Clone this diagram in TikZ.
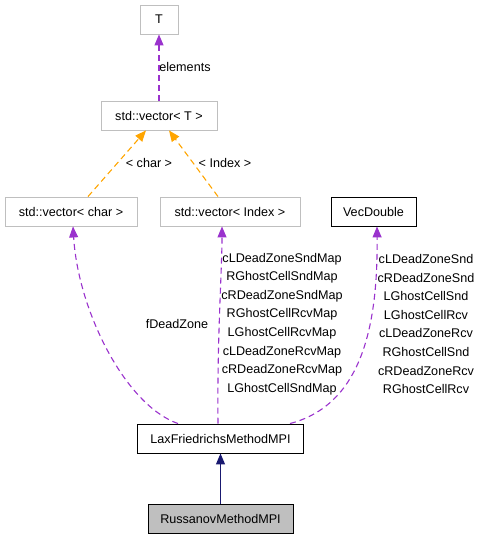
\documentclass[tikz,border=0pt]{standalone}
\usepackage{fontspec}
\setmainfont{Liberation Sans}
\usepackage{xcolor}
\usepackage{tikz}
\usetikzlibrary{arrows.meta}
\usetikzlibrary{calc}

\definecolor{edgepurple}{HTML}{9A32CD}
\definecolor{edgeorange}{HTML}{FFA500}
\definecolor{edgeblue}{HTML}{191970}
\definecolor{boxgrey}{HTML}{BFBFBF}

\begin{document}
\begin{tikzpicture}[x=1bp, y=-1bp, font=\fontsize{12.6bp}{18.6bp}\selectfont]

		\tikzstyle{cls}   = [rectangle, draw=boxgrey, line width=0.9bp, minimum height=29bp, inner sep=0pt, text=black]
		\tikzstyle{clsd}  = [cls, draw=black]
		\tikzstyle{usage} = [draw=edgepurple, line width=1.1bp, dash pattern=on 6bp off 4bp, -{Triangle[length=11bp,width=9bp,fill=edgepurple]}]
		\tikzstyle{templ} = [draw=edgeorange, line width=1.1bp, dash pattern=on 6bp off 4bp, -{Triangle[length=11bp,width=9bp,fill=edgeorange]}]
		\tikzstyle{inher} = [draw=edgeblue, line width=1.1bp, -{Triangle[length=11bp,width=9bp,fill=edgeblue]}]
		\tikzstyle{lbl}   = [inner sep=0pt, align=center, text=black]

		\useasboundingbox (0,0) rectangle (480,539);

		\node [cls, minimum width=38bp](t) at (159,19.5) {T};
		\node [cls, minimum width=116bp](vt) at (159,115.5) {std::vector< T >};
		\node [cls, minimum width=132bp](vchar) at (71,211.5) {std::vector< char >};
		\node [cls, minimum width=140bp](vindex) at (230,211.5) {std::vector< Index >};
		\node [clsd, minimum width=85bp](vdouble) at (373.5,211.5) {VecDouble};
		\node [clsd, minimum width=166bp](lax) at (220.5,438.5) {LaxFriedrichsMethodMPI};
		\node [cls, draw=black, fill=boxgrey, minimum width=145bp](rus) at (220.5,518.5) {RussanovMethodMPI};

		\node [lbl](lelem) at (185,67) {elements};
		\node [lbl](lchar) at (149,163) {< char >};
		\node [lbl](lindex) at (225,163) {< Index >};
		\node [lbl](ldead) at (177,324) {fDeadZone};
		\node [lbl](lmaps) at (282,324) {cLDeadZoneSndMap\\RGhostCellSndMap\\cRDeadZoneSndMap\\RGhostCellRcvMap\\LGhostCellRcvMap\\cLDeadZoneRcvMap\\cRDeadZoneRcvMap\\LGhostCellSndMap};
		\node [lbl](lvecs) at (426,324) {cLDeadZoneSnd\\cRDeadZoneSnd\\LGhostCellSnd\\LGhostCellRcv\\cLDeadZoneRcv\\RGhostCellSnd\\cRDeadZoneRcv\\RGhostCellRcv};

		\draw [usage] (vt.north) -- (t.south);
		\draw [templ] ([xshift=17bp]vchar.north) -- ([xshift=-13bp]vt.south);
		\draw [templ] ([xshift=-12bp]vindex.north) -- ([xshift=10bp]vt.south);
		\draw [usage] ([xshift=-42.5bp]lax.north) .. controls (125,405) and (78,310) .. ([xshift=2bp]vchar.south);
		\draw [usage] ([xshift=-2.5bp]lax.north) .. controls (217,340) and (222,270) .. ([xshift=-8bp]vindex.south);
		\draw [usage] ([xshift=69.5bp]lax.north) .. controls (360,405) and (378,330) .. ([xshift=3.5bp]vdouble.south);
		\draw [inher] (rus.north) -- (lax.south);

	\end{tikzpicture}
\end{document}
